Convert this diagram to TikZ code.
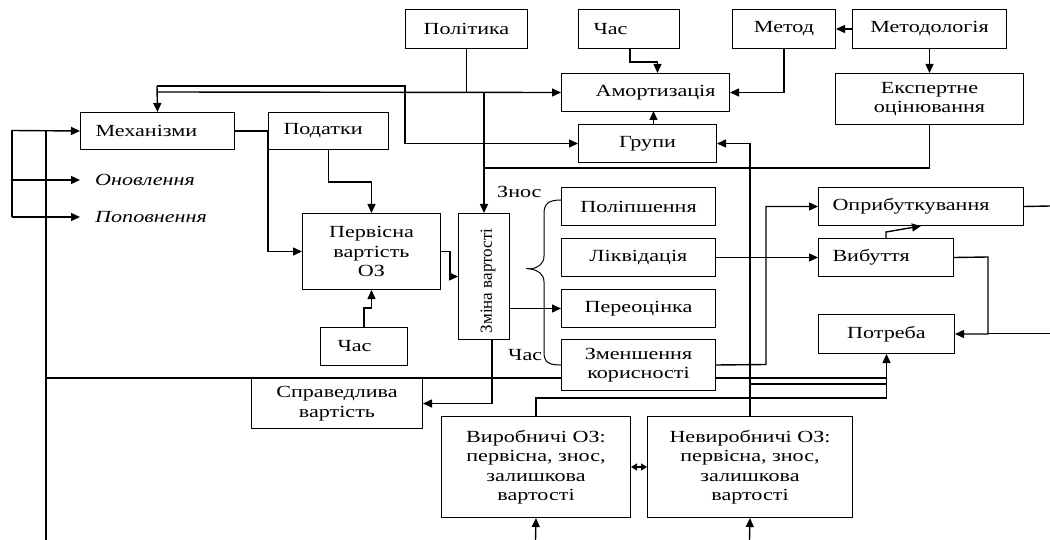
\documentclass[tikz,border=0pt]{standalone}
\usepackage{fontspec}
\setmainfont{Liberation Serif}[FakeStretch=1.3]
\newfontfamily\plainserif{Liberation Serif}
\usetikzlibrary{arrows.meta}
\newcommand\fs{\fontsize{17}{19.5}\selectfont}
\begin{document}
\begin{tikzpicture}[x=1pt,y=-1pt,
  box/.style={draw, line width=1pt, fill=white, inner sep=0pt, align=center, font=\fs, anchor=north west},
  lbox/.style={box, align=left},
  lab/.style={inner sep=0pt, font=\fs, anchor=west},
  arr/.style={line width=1.4pt, -{Triangle[length=9pt,width=8pt]}},
  dbl/.style={line width=1.2pt, {Triangle[length=6pt,width=7pt]}-{Triangle[length=6pt,width=7pt]}},
  ln/.style={line width=1.4pt}]
\useasboundingbox (0,0) rectangle (1050,540);
% boxes
\node[box, minimum width=122pt, minimum height=39pt] (pol) at (405,9) {Політика};
\node[lbox, text width=71pt, inner xsep=15pt, minimum height=39pt] (chas1) at (578,9) {Час};
\node[box, minimum width=103pt, minimum height=39pt] (metod) at (732,9) {Метод};
\node[box, minimum width=154pt, minimum height=39pt] (metodol) at (852,9) {Методологія};
\node[box, minimum width=168pt, minimum height=38pt] (amort) at (561,73) {\hspace*{20pt}Амортизація};
\node[box, minimum width=188pt, minimum height=51pt] (ekspert) at (835,73) {Експертне\\оцінювання};
\node[box, minimum width=138pt, minimum height=38pt] (grupy) at (578,124) {Групи};
\node[lbox, text width=124pt, inner xsep=15pt, minimum height=37pt] (mekh) at (80,112) {Механізми};
\node[lbox, text width=90pt, inner xsep=15pt, minimum height=37pt] (podatky) at (268,112) {Податки};
\node[box, minimum width=138pt, minimum height=76pt] (pervisna) at (302,213) {Первісна\\вартість\\ОЗ};
\node[lbox, text width=53pt, inner xsep=17pt, minimum height=38pt] (chas2) at (320,327) {Час};
\node[box, minimum width=51pt, minimum height=126pt] (zmina) at (458,213) {};
\node[inner sep=0pt, rotate=90, font=\plainserif\fontsize{17}{19}\selectfont] (zminat) at (488,281) {Зміна вартості};
\node[box, minimum width=171pt, minimum height=50pt] (spravedl) at (251,378) {Справедлива\\вартість};
\node[box, minimum width=154pt, minimum height=38pt] (polip) at (561,187) {Поліпшення};
\node[box, minimum width=154pt, minimum height=38pt] (likv) at (561,238) {Ліквідація};
\node[box, minimum width=154pt, minimum height=38pt] (pereots) at (561,289) {Переоцінка};
\node[box, minimum width=154pt, minimum height=51pt] (zmensh) at (561,339) {Зменшення\\корисності};
\node[lbox, text width=177pt, inner xsep=14pt, minimum height=38pt] (opryb) at (818,187) {Оприбуткування};
\node[lbox, text width=107pt, inner xsep=14pt, minimum height=38pt] (vybut) at (818,238) {Вибуття};
\node[box, minimum width=136pt, minimum height=39pt] (potreba) at (818,314) {Потреба};
\node[box, minimum width=189pt, minimum height=101pt] (vyrob) at (441,416) {Виробничі ОЗ:\\первісна, знос,\\залишкова\\вартості};
\node[box, minimum width=205pt, minimum height=101pt] (nevyrob) at (647,416) {Невиробничі ОЗ:\\первісна, знос,\\залишкова\\вартості};
% labels
\node[lab, inner xsep=15pt, font=\fs\itshape] (onovl) at (80,180) {Оновлення};
\node[lab, inner xsep=15pt, font=\fs\itshape] (popovn) at (80,217) {Поповнення};
\node[lab] (znos) at (497,192) {Знос};
\node[lab] (chasl) at (508,355) {Час};
% coordinates
\coordinate (j1) at (157,92);
\coordinate (j2) at (157,86);
\coordinate (k405) at (405,86);
\coordinate (j3) at (483.5,168);
\coordinate (L378) at (46,378);
\coordinate (c384) at (749.5,384);
\coordinate (c766) at (766,364.5);
\coordinate (c988) at (988,257);
\coordinate (r333) at (1050,333.5);
\coordinate (r206) at (1050,206);
\coordinate (b1) at (535.5,540);
\coordinate (b2) at (749.5,540);
\coordinate (a131) at (12,130.5);
\coordinate (a180) at (12,180);
\coordinate (a217) at (12,217);
\coordinate (v131) at (46,130.5);
\coordinate (v540) at (46,540);
% connectors
\draw[arr] (metodol.west) -- (metod.east);
\draw[arr] ([xshift=1pt]chas1.south) -- ++(0,13) -| ([xshift=12pt]amort.north);
\draw[arr] (metod.south) |- (amort.east);
\draw[arr] (metodol.south) -- (ekspert.north);
\draw[arr] ([xshift=6pt]grupy.north) -- ++(0,-13);
\draw[ln] (pol.south) -- (pol.south |- j1);
\draw[arr] (j1) -- (amort.west);
\draw[arr] (zmina.north |- j1) -- (zmina.north);
\draw[arr] (j2) -- (mekh.north);
\draw[arr] (j2) -- (k405) |- (grupy.west);
\draw[ln] (ekspert.south) |- (j3);
\draw[arr] (nevyrob.north) |- (grupy.east);
\draw[arr] (mekh.east) -- (podatky.west) |- (pervisna.west);
\draw[arr] (podatky.south) -- ++(0,32) -| (pervisna.north);
\draw[arr] (chas2.north) -- ++(0,-19) -| (pervisna.south);
\draw[arr] (pervisna.east) -- ++(9,0) |- (zmina.west);
\draw[arr] (zmina.east |- pereots.west) -- (pereots.west);
\draw[arr] ([xshift=8pt]zmina.south) |- (spravedl.east);
\draw[ln] (L378) -- (zmensh.west |- L378);
\draw[ln] (zmensh.east |- L378) -- (potreba.south |- L378);
\draw[ln] (c384) -- (potreba.south |- c384);
\draw[arr] (vyrob.north) -- ++(0,-18) -| (potreba.south);
\draw[arr] (zmensh.east) -- (c766) |- (opryb.west);
\draw[arr] (likv.east) -- (vybut.west);
\draw[arr] (vybut.north) -- ++(0,-6) -- (opryb.south);
\draw[arr] (vybut.east) -- (c988) |- (potreba.east);
\draw[ln] (r333) -- (c988 |- r333);
\draw[ln] (opryb.east) -- (r206);
\draw[dbl] (vyrob.east) -- (nevyrob.west);
\draw[arr] (b1) -- (vyrob.south);
\draw[arr] (b2) -- (nevyrob.south);
\draw[ln] (a131) -- (a217);
\draw[arr] (a131) -- (mekh.west);
\draw[arr] (a180) -- (onovl.west);
\draw[arr] (a217) -- (popovn.west);
\draw[line width=1.7pt] (v131) -- (v540);
% brace
\draw[line width=1pt] (polip.west |- 0,200) .. controls (548,200) and (544,204) .. (544,214) -- (544,256)
  .. controls (544,264) and (538,268) .. (530,269) .. controls (538,270) and (544,274) .. (544,282)
  -- (544,352) .. controls (544,362) and (548,365) .. (561,365);
\draw[line width=1pt] (526,269) -- (530,269);
\end{tikzpicture}
\end{document}
